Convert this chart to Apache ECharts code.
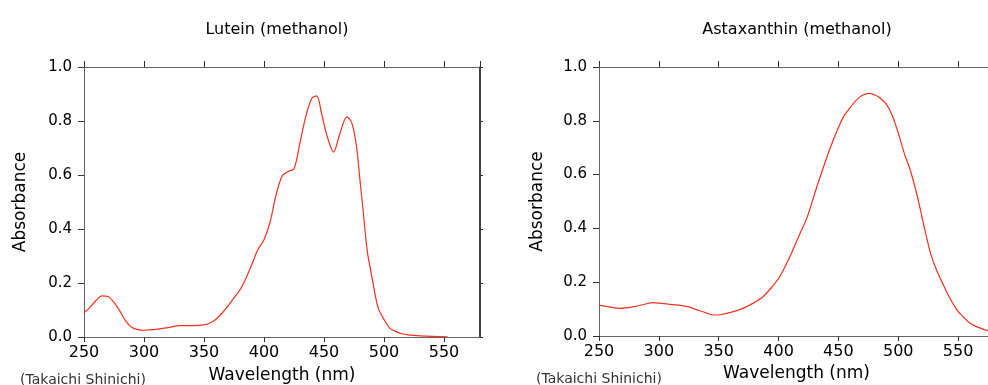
<!DOCTYPE html>
<html>
<head>
<meta charset="utf-8">
<script src="https://cdn.jsdelivr.net/npm/echarts@6/dist/echarts.min.js"></script>
<style>
  html, body { margin: 0; padding: 0; background: #fff; }
  #chart { width: 988px; height: 385px; }
</style>
</head>
<body>
<div id="chart"></div>
<script>
// Lutein in methanol
const luteinWavelength = [250, 255, 260, 265, 270, 275, 280, 285, 290, 295, 300, 310, 320, 330, 340, 350, 355, 360, 365, 370,
  375, 380, 385, 390, 395, 400, 405, 410, 415, 420, 425, 430, 435, 440, 444, 448, 452, 458, 463, 469,
  473, 477, 480, 483, 486, 490, 495, 500, 505, 510, 515, 520, 530, 540, 553];
const luteinAbsorbance = [0.09, 0.11, 0.135, 0.152, 0.15, 0.128, 0.095, 0.058, 0.035, 0.027, 0.025, 0.028, 0.035, 0.042, 0.042, 0.045, 0.052, 0.066, 0.088, 0.115,
  0.145, 0.175, 0.218, 0.27, 0.325, 0.36, 0.425, 0.525, 0.595, 0.613, 0.623, 0.72, 0.82, 0.885, 0.893, 0.827, 0.753, 0.685, 0.75, 0.815,
  0.795, 0.71, 0.58, 0.45, 0.32, 0.22, 0.11, 0.065, 0.032, 0.02, 0.012, 0.008, 0.004, 0.002, 0.001];

// Astaxanthin in methanol
const astaWavelength = [250, 260, 268, 279, 288, 295, 305, 318, 325, 332, 340, 346, 352, 360, 368, 375, 380, 387, 395, 401,
  410, 418, 424, 432, 440, 445, 450, 455, 460, 465, 470, 476, 481, 485, 490, 495, 500, 505, 510, 516,
  521, 527, 532, 541, 549, 555, 560, 567, 573, 580];
const astaAbsorbance = [0.115, 0.107, 0.103, 0.109, 0.118, 0.124, 0.12, 0.114, 0.108, 0.097, 0.085, 0.078, 0.08, 0.088, 0.099, 0.113, 0.125, 0.146, 0.185, 0.22,
  0.3, 0.382, 0.443, 0.555, 0.66, 0.72, 0.775, 0.82, 0.85, 0.877, 0.895, 0.902, 0.895, 0.884, 0.862, 0.82, 0.755, 0.68, 0.617, 0.518,
  0.419, 0.307, 0.245, 0.159, 0.097, 0.068, 0.047, 0.032, 0.022, 0.015];

const titles = ['Lutein (methanol)', 'Astaxanthin (methanol)'];
const xName = 'Wavelength (nm)';
const yName = 'Absorbance';
const credit = '(Takaichi Shinichi)';

const FONT = 'DejaVu Sans';
const LINE_COLOR = '#f5301e';
const AXIS_GREY = '#666';

const chart = echarts.init(document.getElementById('chart'));

function pairs(xs, ys) {
  return xs.map((x, i) => [x, ys[i]]);
}

// bottom + top x axes for one grid
function xAxes(gridIndex, nameGap) {
  return [
    {
      type: 'value', gridIndex, position: 'bottom',
      min: 250, max: 580, interval: 50,
      name: xName, nameLocation: 'middle', nameGap,
      nameTextStyle: { fontFamily: FONT, fontSize: 17, color: '#000' },
      axisLine: { onZero: false, lineStyle: { color: AXIS_GREY, width: 1 } },
      axisTick: { show: true, inside: false, length: 5, lineStyle: { color: '#333' } },
      axisLabel: { fontFamily: FONT, fontSize: 16, color: '#000', margin: 8, showMaxLabel: false },
      splitLine: { show: false }
    },
    {
      type: 'value', gridIndex, position: 'top',
      min: 250, max: 580, interval: 50,
      axisLine: { onZero: false, lineStyle: { color: AXIS_GREY, width: 1 } },
      axisTick: { show: true, inside: false, length: 6, lineStyle: { color: '#333' } },
      axisLabel: { show: false },
      splitLine: { show: false }
    }
  ];
}

function yAxes(gridIndex, nameGap) {
  return [
    {
      type: 'value', gridIndex, position: 'left',
      min: 0, max: 1, interval: 0.2,
      name: yName, nameLocation: 'middle', nameGap, nameRotate: 90,
      nameTextStyle: { fontFamily: FONT, fontSize: 17, color: '#000' },
      axisLine: { show: true, onZero: false, lineStyle: { color: AXIS_GREY, width: 1 } },
      axisTick: { show: true, inside: false, length: 6, lineStyle: { color: '#333' } },
      axisLabel: { fontFamily: FONT, fontSize: 15, color: '#000', margin: 12, formatter: v => v.toFixed(1) },
      splitLine: { show: false }
    },
    {
      type: 'value', gridIndex, position: 'right',
      min: 0, max: 1, interval: 0.2,
      axisLine: { show: true, onZero: false, lineStyle: { color: '#000', width: 1.5 } },
      axisTick: { show: true, inside: false, length: 3, lineStyle: { color: '#333' } },
      axisLabel: { show: false },
      splitLine: { show: false }
    }
  ];
}

const option = {
  backgroundColor: '#fff',
  animation: false,
  title: [
    { text: titles[0], left: 272, top: 17, textAlign: 'center',
      textStyle: { fontFamily: FONT, fontSize: 16, fontWeight: 'normal', color: '#000' } },
    { text: titles[1], left: 792, top: 17, textAlign: 'center',
      textStyle: { fontFamily: FONT, fontSize: 16, fontWeight: 'normal', color: '#000' } }
  ],
  grid: [
    { left: 84, top: 67, width: 396, height: 270, containLabel: false, outerBoundsMode: 'none' },
    { left: 599, top: 67, width: 395, height: 269, containLabel: false, outerBoundsMode: 'none' }
  ],
  xAxis: [...xAxes(0, 30), ...xAxes(1, 29)],
  yAxis: [...yAxes(0, 55), ...yAxes(1, 53)],
  graphic: [
    { type: 'text', left: 20, top: 373,
      style: { text: credit, fontFamily: FONT, fontSize: 14, fill: '#333' } },
    { type: 'text', left: 536, top: 372,
      style: { text: credit, fontFamily: FONT, fontSize: 14, fill: '#333' } }
  ],
  series: [
    {
      type: 'line', xAxisIndex: 0, yAxisIndex: 0,
      data: pairs(luteinWavelength, luteinAbsorbance),
      smooth: 0.3, showSymbol: false,
      lineStyle: { color: LINE_COLOR, width: 1.2 }
    },
    {
      type: 'line', xAxisIndex: 2, yAxisIndex: 2,
      data: pairs(astaWavelength, astaAbsorbance),
      smooth: 0.3, showSymbol: false,
      lineStyle: { color: LINE_COLOR, width: 1.2 }
    }
  ]
};

chart.setOption(option);
</script>
</body>
</html>
